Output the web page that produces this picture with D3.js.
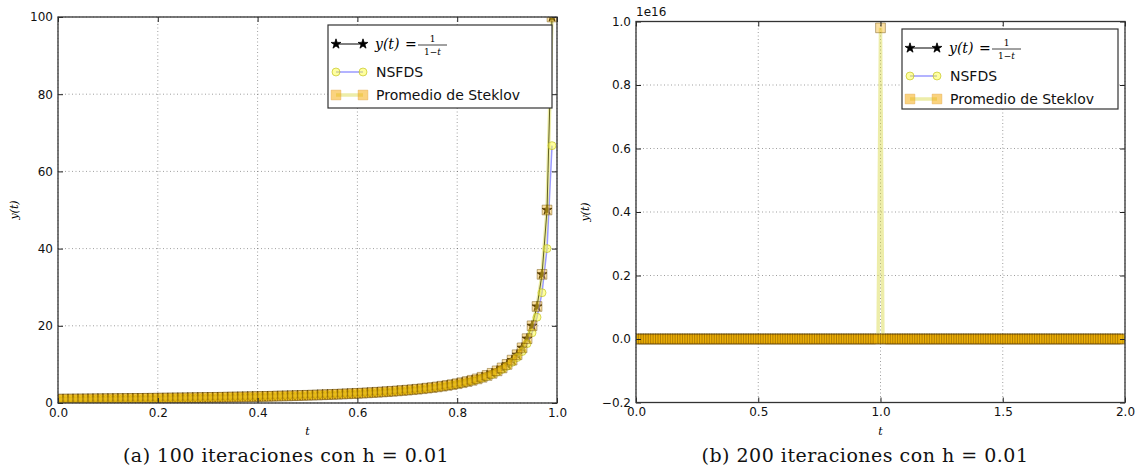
<!DOCTYPE html>
<html>
<head>
<meta charset="utf-8">
<script src="https://cdnjs.cloudflare.com/ajax/libs/d3/7.8.5/d3.min.js"></script>
<style>
  body { margin: 0; background: #fff; }
  text { font-family: "DejaVu Sans", sans-serif; }
</style>
</head>
<body>
<div id="chart-container"></div>
<script>
// step size and iterations (from the captions)
const h = 0.01;
const stepsLeft = 100;
const stepsRight = 200;

// y(t) = 1/(1-t), t = 0 .. 0.99
const yExact = [1.00, 1.01, 1.02, 1.03, 1.04, 1.05, 1.06, 1.08, 1.09, 1.10,
  1.11, 1.12, 1.14, 1.15, 1.16, 1.18, 1.19, 1.20, 1.22, 1.23,
  1.25, 1.27, 1.28, 1.30, 1.32, 1.33, 1.35, 1.37, 1.39, 1.41,
  1.43, 1.45, 1.47, 1.49, 1.52, 1.54, 1.56, 1.59, 1.61, 1.64,
  1.67, 1.69, 1.72, 1.75, 1.79, 1.82, 1.85, 1.89, 1.92, 1.96,
  2.00, 2.04, 2.08, 2.13, 2.17, 2.22, 2.27, 2.33, 2.38, 2.44,
  2.50, 2.56, 2.63, 2.70, 2.78, 2.86, 2.94, 3.03, 3.13, 3.23,
  3.33, 3.45, 3.57, 3.70, 3.85, 4.00, 4.17, 4.35, 4.55, 4.76,
  5.00, 5.26, 5.56, 5.88, 6.25, 6.67, 7.14, 7.69, 8.33, 9.09,
  10.0, 11.11, 12.5, 14.29, 16.67, 20.0, 25.0, 33.33, 50.0, 100.0];

// NSFDS, lags behind near the blow-up
const yNsfds = [1.00, 1.01, 1.02, 1.03, 1.04, 1.05, 1.06, 1.07, 1.08, 1.09,
  1.10, 1.12, 1.13, 1.14, 1.16, 1.17, 1.18, 1.20, 1.21, 1.23,
  1.24, 1.26, 1.27, 1.29, 1.31, 1.32, 1.34, 1.36, 1.38, 1.40,
  1.42, 1.44, 1.46, 1.48, 1.50, 1.53, 1.55, 1.57, 1.60, 1.63,
  1.65, 1.68, 1.71, 1.74, 1.77, 1.80, 1.83, 1.87, 1.90, 1.94,
  1.98, 2.02, 2.06, 2.11, 2.15, 2.20, 2.25, 2.30, 2.35, 2.41,
  2.47, 2.53, 2.60, 2.67, 2.74, 2.82, 2.90, 2.99, 3.08, 3.17,
  3.28, 3.39, 3.51, 3.64, 3.77, 3.92, 4.08, 4.26, 4.44, 4.65,
  4.88, 5.13, 5.41, 5.71, 6.06, 6.45, 6.90, 7.41, 8.00, 8.70,
  9.52, 10.53, 11.76, 13.33, 15.38, 18.18, 22.22, 28.57, 40.0, 66.67];

// Steklov average sits on top of the exact curve
const ySteklov = yExact;

// right panel: values at t = 1.00 and past the blow-up (t = 1.01 .. 1.99)
const spikeSteklov = 0.98e16;
const spikeNsfds = 200;
const yAfter = [-100, -50, -33.33, -25, -20, -16.67, -14.29, -12.5, -11.11, -10,
  -9.09, -8.33, -7.69, -7.14, -6.67, -6.25, -5.88, -5.56, -5.26, -5,
  -4.76, -4.55, -4.35, -4.17, -4, -3.85, -3.70, -3.57, -3.45, -3.33,
  -3.23, -3.13, -3.03, -2.94, -2.86, -2.78, -2.70, -2.63, -2.56, -2.5,
  -2.44, -2.38, -2.33, -2.27, -2.22, -2.17, -2.13, -2.08, -2.04, -2,
  -1.96, -1.92, -1.89, -1.85, -1.82, -1.79, -1.75, -1.72, -1.69, -1.67,
  -1.64, -1.61, -1.59, -1.56, -1.54, -1.52, -1.49, -1.47, -1.45, -1.43,
  -1.41, -1.39, -1.37, -1.35, -1.33, -1.32, -1.30, -1.28, -1.27, -1.25,
  -1.23, -1.22, -1.20, -1.19, -1.18, -1.16, -1.15, -1.14, -1.12, -1.11,
  -1.10, -1.09, -1.08, -1.06, -1.05, -1.04, -1.03, -1.02, -1.01];

const xTicksLeft = [0, 0.2, 0.4, 0.6, 0.8, 1.0];
const yTicksLeft = [0, 20, 40, 60, 80, 100];
const xTicksRight = [0, 0.5, 1.0, 1.5, 2.0];
const yTicksRight = [-0.2, 0, 0.2, 0.4, 0.6, 0.8, 1.0];

const legendNames = ["exact", "NSFDS", "Promedio de Steklov"];
const captions = ["(a) 100 iteraciones con h = 0.01", "(b) 200 iteraciones con h = 0.01"];

document.addEventListener('DOMContentLoaded', function(){
  drawFigure();
});

function drawFigure(){
  let svg = d3.select('#chart-container')
    .append('svg')
    .attr('width', 1140)
    .attr('height', 473);

  let tLeft = d3.range(stepsLeft).map(i => i * h);
  let tRight = d3.range(stepsRight).map(i => i * h);

  let exactRight = yExact.concat([null], yAfter);
  let nsfdsRight = yNsfds.concat([spikeNsfds], yAfter);
  let steklovRight = ySteklov.concat([spikeSteklov], yAfter);

  drawPanel(svg, {
    id: "a",
    left: 58, right: 557, top: 17, bottom: 403,
    xDomain: [0, 1], yDomain: [0, 100],
    xTicks: xTicksLeft, yTicks: yTicksLeft,
    xFormat: d3.format(".1f"), yFormat: d3.format("d"),
    t: tLeft, exact: yExact, nsfds: yNsfds, steklov: ySteklov,
    yLabelX: 18, legend: {x: 328, y: 25, w: 224, h: 83},
    caption: captions[0], captionX: 286
  });

  drawPanel(svg, {
    id: "b",
    left: 636, right: 1125, top: 21.5, bottom: 402.5,
    xDomain: [0, 2], yDomain: [-0.2e16, 1.0e16],
    xTicks: xTicksRight, yTicks: yTicksRight.map(v => v * 1e16),
    xFormat: d3.format(".1f"), yFormat: v => d3.format(".1f")(v / 1e16),
    t: tRight, exact: exactRight, nsfds: nsfdsRight, steklov: steklovRight,
    yLabelX: 589, legend: {x: 902, y: 29, w: 216, h: 80},
    caption: captions[1], captionX: 865, offsetText: "1e16"
  });
}

function drawPanel(svg, cfg){
  let xScale = d3.scaleLinear().domain(cfg.xDomain).range([cfg.left, cfg.right]);
  let yScale = d3.scaleLinear().domain(cfg.yDomain).range([cfg.bottom, cfg.top]);
  let w = cfg.right - cfg.left;
  let hgt = cfg.bottom - cfg.top;

  svg.append("clipPath")
    .attr("id", "clip-" + cfg.id)
    .append("rect")
    .attr("x", cfg.left).attr("y", cfg.top)
    .attr("width", w).attr("height", hgt);

  //grid
  let grid = svg.append("g").attr("class", "grid");
  grid.selectAll(".gx")
    .data(cfg.xTicks)
    .enter().append("line")
    .attr("x1", d => xScale(d)).attr("x2", d => xScale(d))
    .attr("y1", cfg.top).attr("y2", cfg.bottom);
  grid.selectAll(".gy")
    .data(cfg.yTicks)
    .enter().append("line")
    .attr("y1", d => yScale(d)).attr("y2", d => yScale(d))
    .attr("x1", cfg.left).attr("x2", cfg.right);
  grid.selectAll("line")
    .attr("stroke", "#000")
    .attr("stroke-opacity", 0.55)
    .attr("stroke-width", 0.7)
    .attr("stroke-dasharray", "1,2.5");

  //series
  let plot = svg.append("g").attr("clip-path", "url(#clip-" + cfg.id + ")");
  drawSeries(plot, xScale, yScale, cfg.t, cfg.exact, "exact");
  drawSeries(plot, xScale, yScale, cfg.t, cfg.nsfds, "nsfds");
  drawSeries(plot, xScale, yScale, cfg.t, cfg.steklov, "steklov");

  //axes, ticks pointing in
  let axes = [
    {gen: d3.axisBottom(xScale).tickValues(cfg.xTicks).tickFormat(cfg.xFormat), y: cfg.bottom, x: 0, labels: true},
    {gen: d3.axisTop(xScale).tickValues(cfg.xTicks), y: cfg.top, x: 0, labels: false},
    {gen: d3.axisLeft(yScale).tickValues(cfg.yTicks).tickFormat(cfg.yFormat), y: 0, x: cfg.left, labels: true},
    {gen: d3.axisRight(yScale).tickValues(cfg.yTicks), y: 0, x: cfg.right, labels: false}
  ];
  axes.forEach(a => {
    let g = svg.append("g")
      .attr("transform", "translate(" + a.x + "," + a.y + ")")
      .call(a.gen.tickSizeInner(-5).tickSizeOuter(0).tickPadding(5));
    g.select(".domain").remove();
    g.selectAll(".tick line").attr("stroke", "#222");
    g.selectAll(".tick text")
      .style("font-family", "DejaVu Sans")
      .style("font-size", "12px")
      .attr("fill", "#111");
    if (!a.labels) g.selectAll(".tick text").remove();
  });

  //frame
  svg.append("rect")
    .attr("x", cfg.left).attr("y", cfg.top)
    .attr("width", w).attr("height", hgt)
    .attr("fill", "none")
    .attr("stroke", "#333")
    .attr("stroke-width", 1.3);

  if (cfg.offsetText) {
    svg.append("text")
      .attr("x", cfg.left).attr("y", cfg.top - 6)
      .style("font-size", "12px")
      .attr("fill", "#111")
      .text(cfg.offsetText);
  }

  //axis labels
  svg.append("text")
    .attr("x", (cfg.left + cfg.right) / 2)
    .attr("y", cfg.bottom + 32)
    .attr("text-anchor", "middle")
    .style("font-family", "DejaVu Serif")
    .style("font-style", "italic")
    .style("font-size", "11px")
    .text("t");

  svg.append("text")
    .attr("transform", "translate(" + cfg.yLabelX + "," + ((cfg.top + cfg.bottom) / 2) + ") rotate(-90)")
    .attr("text-anchor", "middle")
    .style("font-family", "DejaVu Serif")
    .style("font-style", "italic")
    .style("font-size", "11px")
    .text("y(t)");

  drawLegend(svg, cfg.legend);

  //caption
  svg.append("text")
    .attr("x", cfg.captionX)
    .attr("y", 462)
    .attr("text-anchor", "middle")
    .style("font-family", "DejaVu Serif")
    .style("font-size", "19px")
    .style("letter-spacing", "0.5px")
    .attr("fill", "#111")
    .text(cfg.caption);
}

function drawSeries(plot, xScale, yScale, t, values, kind){
  let pts = t.map((d, i) => ({t: d, y: values[i]}));
  let line = d3.line()
    .defined(d => d.y != null)
    .x(d => xScale(d.t))
    .y(d => yScale(d.y));
  let st = seriesStyle(kind);

  plot.append("path")
    .datum(pts)
    .attr("d", line)
    .attr("fill", "none")
    .attr("stroke", st.line)
    .attr("stroke-opacity", st.lineOpacity)
    .attr("stroke-width", st.lineWidth);

  plot.selectAll(".m-" + kind)
    .data(pts.filter(d => d.y != null))
    .enter()
    .append("path")
    .attr("class", "m-" + kind)
    .attr("transform", d => "translate(" + xScale(d.t) + "," + yScale(d.y) + ")")
    .attr("d", st.symbol)
    .attr("fill", st.fill)
    .attr("fill-opacity", st.fillOpacity)
    .attr("stroke", st.edge)
    .attr("stroke-opacity", st.edgeOpacity)
    .attr("stroke-width", 0.8);
}

function seriesStyle(kind){
  if (kind == "exact") {
    return {line: "#000", lineOpacity: 1, lineWidth: 1,
      symbol: d3.symbol().type(d3.symbolStar).size(30)(),
      fill: "#000", fillOpacity: 1, edge: "#000", edgeOpacity: 1};
  } else if (kind == "nsfds") {
    return {line: "#6f6fff", lineOpacity: 0.7, lineWidth: 1.5,
      symbol: d3.symbol().type(d3.symbolCircle).size(50)(),
      fill: "#ffff40", fillOpacity: 0.5, edge: "#b5b500", edgeOpacity: 0.7};
  } else {
    return {line: "#d8d840", lineOpacity: 0.45, lineWidth: 3.5,
      symbol: d3.symbol().type(d3.symbolSquare).size(95)(),
      fill: "#f5a800", fillOpacity: 0.36, edge: "#6a4a00", edgeOpacity: 0.55};
  }
}

function drawLegend(svg, box){
  let g = svg.append("g").attr("transform", "translate(" + box.x + "," + box.y + ")");
  g.append("rect")
    .attr("width", box.w).attr("height", box.h)
    .attr("fill", "#fff")
    .attr("stroke", "#333")
    .attr("stroke-width", 1.2);

  let rows = [19, 47, 70];
  let kinds = ["exact", "nsfds", "steklov"];
  kinds.forEach((kind, i) => {
    let st = seriesStyle(kind);
    let y = rows[i];
    g.append("line")
      .attr("x1", 8).attr("x2", 35)
      .attr("y1", y).attr("y2", y)
      .attr("stroke", st.line)
      .attr("stroke-opacity", st.lineOpacity)
      .attr("stroke-width", st.lineWidth);
    [8, 35].forEach(x => {
      g.append("path")
        .attr("transform", "translate(" + x + "," + y + ")")
        .attr("d", st.symbol)
        .attr("fill", st.fill)
        .attr("fill-opacity", kind == "steklov" ? 0.5 : st.fillOpacity)
        .attr("stroke", kind == "steklov" ? "#e0a040" : st.edge)
        .attr("stroke-opacity", kind == "steklov" ? 0.5 : st.edgeOpacity)
        .attr("stroke-width", 0.8);
    });
    if (kind == "exact") {
      drawFormula(g, 47, y);
    } else {
      g.append("text")
        .attr("x", 48).attr("y", y + 5)
        .style("font-size", "14px")
        .attr("fill", "#111")
        .text(legendNames[i]);
    }
  });
}

//y(t) = 1/(1-t), drawn as mathtext-like pieces
function drawFormula(g, x, y){
  g.append("text")
    .attr("x", x).attr("y", y + 5)
    .style("font-family", "DejaVu Serif")
    .style("font-style", "italic")
    .style("font-size", "14px")
    .text("y(t)");
  g.append("text")
    .attr("x", x + 30).attr("y", y + 5)
    .style("font-family", "DejaVu Serif")
    .style("font-size", "14px")
    .text("=");
  g.append("line")
    .attr("x1", x + 43).attr("x2", x + 72)
    .attr("y1", y + 1).attr("y2", y + 1)
    .attr("stroke", "#111")
    .attr("stroke-width", 0.8);
  g.append("text")
    .attr("x", x + 57.5).attr("y", y - 2)
    .attr("text-anchor", "middle")
    .style("font-family", "DejaVu Serif")
    .style("font-size", "9px")
    .text("1");
  g.append("text")
    .attr("x", x + 57.5).attr("y", y + 11)
    .attr("text-anchor", "middle")
    .style("font-family", "DejaVu Serif")
    .style("font-size", "9px")
    .html("1&#8722;<tspan font-style='italic'>t</tspan>");
}
</script>
</body>
</html>
